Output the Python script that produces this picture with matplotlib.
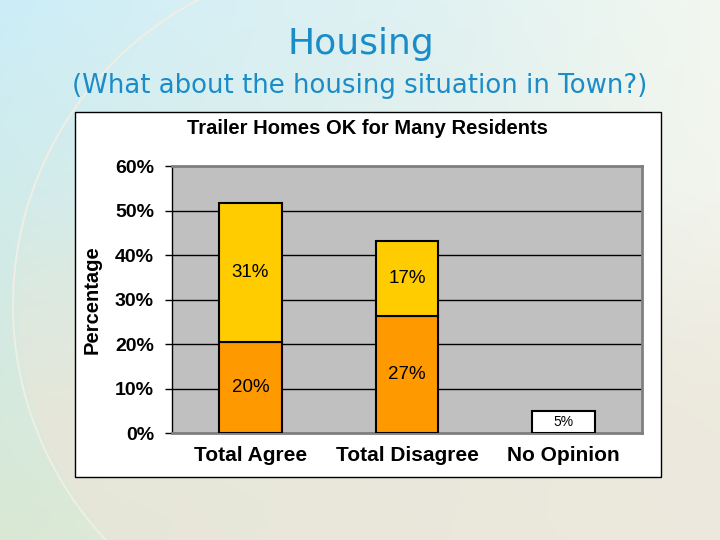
"""
Housing survey slide: stacked bar chart of opinions on trailer homes.
"""

import numpy as np
import matplotlib
matplotlib.use('Agg')
import matplotlib.pyplot as plt
from matplotlib.patches import Rectangle, Arc

# --- data ---
categories = ['Total Agree', 'Total Disagree', 'No Opinion']
lower_vals = [20.6, 26.3, 5.0]
upper_vals = [31.2, 16.9, 0.0]
lower_labels = ['20%', '27%', '5%']
upper_labels = ['31%', '17%', '']
lower_colors = ['#FF9900', '#FF9900', '#FFFFFF']
upper_color = '#FFCC00'
yticks = [0, 10, 20, 30, 40, 50, 60]

W, H = 720, 540
fig = plt.figure(figsize=(7.2, 5.4), dpi=100)

# ── slide background (soft gradient + big arc on the left) ──
bg = fig.add_axes([0, 0, 1, 1])
v, u = np.mgrid[0:H, 0:W]
u = u / W
v = v / H
tl = np.array([0.80, 0.93, 0.97])
tr = np.array([0.95, 0.97, 0.94])
bl = np.array([0.85, 0.91, 0.83])
br = np.array([0.95, 0.94, 0.91])
img = ((1 - u)[..., None] * (1 - v)[..., None] * tl + u[..., None] * (1 - v)[..., None] * tr
       + (1 - u)[..., None] * v[..., None] * bl + u[..., None] * v[..., None] * br)
blob = np.exp(-(((u - 0.55) / 0.25) ** 2 + ((v - 0.1) / 0.2) ** 2))
img = img * (1 - 0.1 * blob[..., None]) + 0.1 * blob[..., None] * np.array([0.78, 0.88, 0.92])
# inside the arc the lower part turns warm beige, blended smoothly
cx, cy, r = 357, 305, 344
dist = np.sqrt((u * W - cx) ** 2 + (v * H - cy) ** 2)
inside = np.clip((r - dist) / 6, 0, 1)
inside = np.where(u * W > cx, 1.0, inside)
wv = np.clip((v - 0.35) / 0.4, 0, 1) * inside
warm = np.array([0.92, 0.90, 0.85])
img = img * (1 - 0.7 * wv[..., None]) + 0.7 * wv[..., None] * warm
bg.imshow(np.clip(img, 0, 1), extent=[0, W, H, 0], aspect='auto')
bg.add_patch(Arc((cx, cy), 2 * r, 2 * r, theta1=100, theta2=250,
                 edgecolor='#F3EEE4', lw=1.5, alpha=0.9))
bg.set_xlim(0, W)
bg.set_ylim(H, 0)
bg.axis('off')

# ── slide titles ──
fig.text(361 / W, 1 - 44 / H, 'Housing', ha='center', va='center',
         fontsize=26, color='#1A8CC8', family='DejaVu Sans')
fig.text(360 / W, 1 - 86 / H, '(What about the housing situation in Town?)',
         ha='center', va='center', fontsize=18.7, color='#1A8CC8', family='DejaVu Sans')

# ── white chart frame ──
fig.add_artist(Rectangle((75 / W, 1 - 477 / H), 586 / W, 365.5 / H,
                         transform=fig.transFigure, facecolor='white',
                         edgecolor='black', lw=1, zorder=1))

# ── plot area ──
ax = fig.add_axes([172 / W, 1 - 433.3 / H, 470 / W, 267.3 / H], zorder=2)
ax.set_facecolor('#C0C0C0')
x = np.arange(len(categories))
ax.bar(x, lower_vals, width=0.4, color=lower_colors, edgecolor='black', lw=1.5, zorder=3)
ax.bar(x, upper_vals, width=0.4, bottom=lower_vals, color=upper_color,
       edgecolor=['black', 'black', 'none'], lw=1.5, zorder=3)

for i in range(len(categories)):
    if i < 2:
        ax.text(x[i], lower_vals[i] / 2, lower_labels[i], ha='center', va='center',
                fontsize=13.5, family='Liberation Sans', zorder=4)
        ax.text(x[i], lower_vals[i] + upper_vals[i] / 2, upper_labels[i], ha='center',
                va='center', fontsize=13.5, family='Liberation Sans', zorder=4)
    else:
        ax.text(x[i], lower_vals[i] / 2, lower_labels[i], ha='center', va='center',
                fontsize=10, family='Liberation Sans', zorder=4)

ax.set_xlim(-0.5, len(categories) - 0.5)
ax.set_ylim(0, 60)
ax.set_yticks(yticks)
ax.set_yticklabels([f'{t}%' for t in yticks], fontsize=14, fontweight='bold',
                   family='Liberation Sans')
ax.set_xticks(x)
ax.set_xticklabels(categories, fontsize=15, fontweight='bold', family='Liberation Sans')
ax.tick_params(axis='x', length=0, pad=9)
ax.tick_params(axis='y', direction='out', length=5, width=1, pad=8)
ax.yaxis.grid(True, color='black', lw=1)
ax.set_axisbelow(True)
for side in ['top', 'right', 'bottom']:
    ax.spines[side].set_color('#808080')
    ax.spines[side].set_linewidth(2)
ax.spines['left'].set_color('black')
ax.spines['left'].set_linewidth(1)

fig.text(92 / W, 1 - 300 / H, 'Percentage', rotation=90, ha='center', va='center',
         fontsize=14.5, fontweight='bold', family='Liberation Sans')
fig.text(367 / W, 1 - 129 / H, 'Trailer Homes OK for Many Residents', ha='center',
         va='center', fontsize=14.5, fontweight='bold', family='Liberation Sans')

fig.savefig('out.png', dpi=100)
